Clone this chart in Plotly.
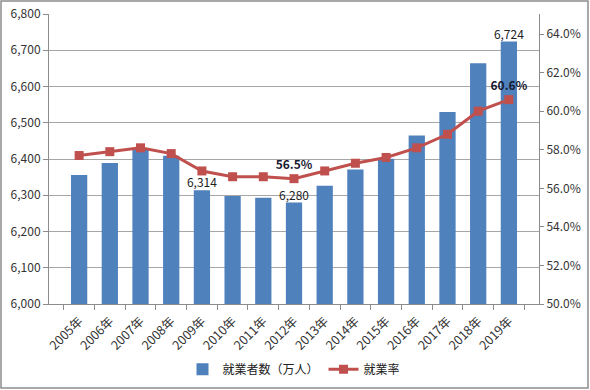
import plotly.graph_objects as go

years = ["2005年", "2006年", "2007年", "2008年", "2009年", "2010年", "2011年", "2012年",
         "2013年", "2014年", "2015年", "2016年", "2017年", "2018年", "2019年"]
employed = [6356, 6389, 6427, 6409, 6314, 6298, 6293, 6280, 6326, 6371, 6401, 6465, 6530, 6664, 6724]
rate = [57.7, 57.9, 58.1, 57.8, 56.9, 56.6, 56.6, 56.5, 56.9, 57.3, 57.6, 58.1, 58.8, 60.0, 60.6]
bar_labels = ["", "", "", "", "6,314", "", "", "6,280", "", "", "", "", "", "", "6,724"]
rate_labels = ["", "", "", "", "", "", "", "<b>56.5%</b>", "", "", "", "", "", "", "<b>60.6%</b>"]
rate_ticks = [50, 52, 54, 56, 58, 60, 62, 64]
rate_tick_text = ["50.0%", "52.0%", "54.0%", "56.0%", "58.0%", "60.0%", "62.0%", "64.0%"]

FONT = "Noto Sans CJK JP, DejaVu Sans, sans-serif"

fig = go.Figure()
fig.add_trace(go.Bar(
    x=years, y=employed, name="就業者数（万人）",
    marker=dict(color="#4F81BD", line=dict(width=0)),
))
fig.add_trace(go.Scatter(
    x=years, y=employed, mode="text", text=bar_labels, textposition="top center",
    showlegend=False, hoverinfo="skip", cliponaxis=False,
    textfont=dict(size=12, color="#222222", family=FONT),
))
fig.add_trace(go.Scatter(
    x=years, y=rate, name="就業率", yaxis="y2",
    mode="lines+markers+text",
    line=dict(color="#C0504D", width=3),
    marker=dict(symbol="square", size=9, color="#C0504D"),
    text=rate_labels, textposition="top center", cliponaxis=False,
    textfont=dict(size=12, color="#1a1a33", family=FONT),
))

fig.update_layout(
    width=590, height=390,
    margin=dict(l=49, r=51, t=14, b=86, autoexpand=False),
    paper_bgcolor="white", plot_bgcolor="white",
    font=dict(family=FONT, size=11, color="#333333"),
    bargap=0.47,
    showlegend=True,
    legend=dict(orientation="h", x=0.5, xanchor="center", y=-0.175, yanchor="top",
                font=dict(size=12, color="#222222"), itemwidth=30),
    xaxis=dict(
        type="category", tickangle=-45, showgrid=False, automargin=False,
        showline=True, linecolor="#8c8c8c", linewidth=1,
        ticks="outside", tickson="boundaries", ticklen=5, tickcolor="#8c8c8c",
        tickfont=dict(size=12.5, color="#333333"), ticklabelstandoff=4,
    ),
    yaxis=dict(
        range=[6000, 6800], dtick=100, tickformat=",", automargin=False,
        showgrid=True, gridcolor="#a6a6a6", gridwidth=1,
        showline=True, linecolor="#8c8c8c", linewidth=1,
        ticks="outside", ticklen=5, tickcolor="#8c8c8c",
        tickfont=dict(size=12, color="#333333"), zeroline=False,
    ),
    yaxis2=dict(
        overlaying="y", side="right", automargin=False,
        range=[50, 65.04], tickmode="array", tickvals=rate_ticks, ticktext=rate_tick_text,
        showgrid=False, showline=True, linecolor="#8c8c8c", linewidth=1,
        ticks="outside", ticklen=4, tickcolor="#8c8c8c",
        tickfont=dict(size=12, color="#333333"), zeroline=False,
    ),
    shapes=[dict(type="rect", xref="paper", yref="paper",
                 x0=-48/490, x1=1 + 49/490, y0=-84/290, y1=1 + 13/290,
                 line=dict(color="#8c8c8c", width=1.5), layer="below")],
)

fig.write_html("out.html", config={"displayModeBar": False},
               post_script="document.body.style.margin='0px';")
